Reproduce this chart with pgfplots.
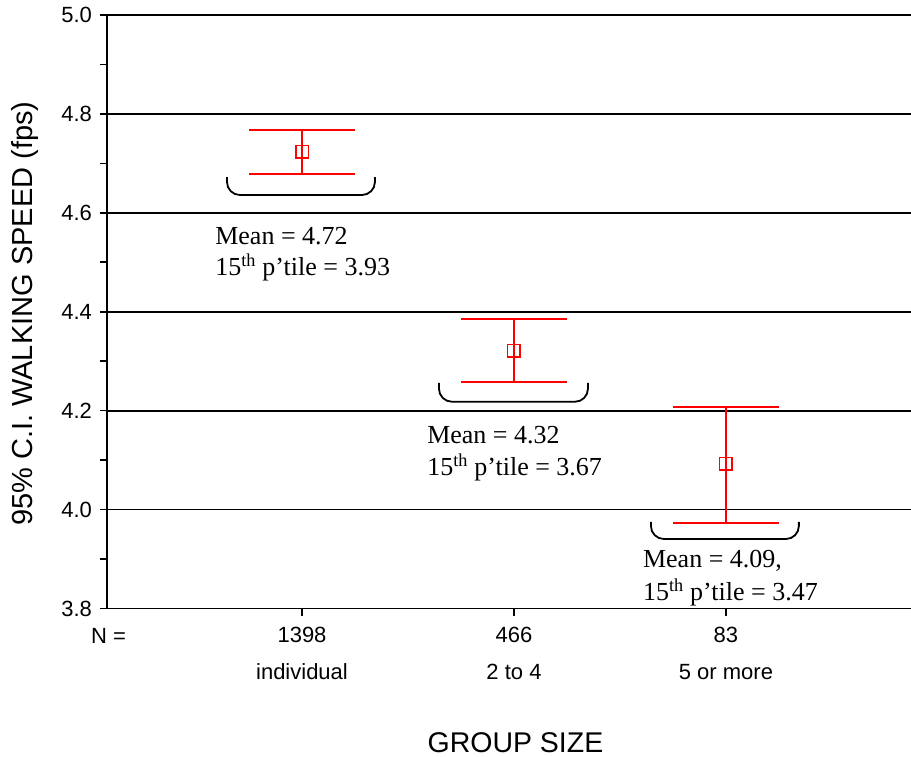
\documentclass[border=0pt]{standalone}
\usepackage{fontspec}
\setmainfont{Liberation Serif}
\setsansfont{Liberation Sans}
\usepackage{pgfplots}
\pgfplotsset{compat=1.18}
\begin{document}
\begin{tikzpicture}[x=1bp,y=1bp]
\begin{axis}[
  at={(0,0)}, anchor=south west,
  scale only axis, width=804bp, height=593.5bp,
  xmin=0.080, xmax=3.873, ymin=3.8, ymax=5.0,
  axis x line=bottom, axis y line=left,
  axis line style={-, line width=1.8bp},
  xtick={1,2,3}, xticklabels={1398,466,83},
  ytick={3.8,4.0,4.2,4.4,4.6,4.8,5.0},
  minor ytick={3.9,4.1,4.3,4.5,4.7,4.9},
  yticklabel style={xshift=-4.5bp, /pgf/number format/fixed, /pgf/number format/fixed zerofill, /pgf/number format/precision=1},
  xticklabel style={anchor=base, yshift=-26.5bp},
  ymajorgrids, grid style={black, line width=1.8bp},
  tick align=outside, major tick length=7bp, minor tick length=7bp,
  every tick/.style={black, line width=1.6bp},
  ticklabel style={font=\sffamily\fontsize{22bp}{26bp}\selectfont},
  /pgf/number format/assume math mode=true,
  clip=false,
]
\addplot[only marks, red, mark=square, mark size=6.3bp,
  mark options={line width=1.6bp, fill=none},
  error bars/.cd, y dir=both, y explicit,
  error bar style={red, line width=1.7bp},
  error mark options={rotate=90, red, line width=1.7bp, mark size=53bp}]
  coordinates {
  (1,4.723) += (0,0.0445) -= (0,0.0445)
  (2,4.3207) += (0,0.0643) -= (0,0.0627)
  (3,4.0922) += (0,0.1153) -= (0,0.1192)
  };
% brackets
\draw[black, line width=1.8bp, rounded corners=13bp]
  (axis cs:0.646,4.672) -- (axis cs:0.646,4.636) -- (axis cs:1.344,4.636) -- (axis cs:1.344,4.672);
\draw[black, line width=1.8bp, rounded corners=13bp]
  (axis cs:1.646,4.256) -- (axis cs:1.646,4.218) -- (axis cs:2.349,4.218) -- (axis cs:2.349,4.256);
\draw[black, line width=1.8bp, rounded corners=13bp]
  (axis cs:2.646,3.975) -- (axis cs:2.646,3.9405) -- (axis cs:3.344,3.9405) -- (axis cs:3.344,3.975);
% annotations
\tikzset{ann/.style={anchor=base west, inner sep=0pt, font=\rmfamily\fontsize{26bp}{30bp}\selectfont}}
\node[ann] at (axis cs:0.590,4.535) {Mean = 4.72};
\node[ann] at (axis cs:0.590,4.4723) {15\textsuperscript{th} p’tile = 3.93};
\node[ann] at (axis cs:1.590,4.1326) {Mean = 4.32};
\node[ann] at (axis cs:1.590,4.068) {15\textsuperscript{th} p’tile = 3.67};
\node[ann] at (axis cs:2.608,3.882) {Mean = 4.09,};
\node[ann] at (axis cs:2.608,3.8152) {15\textsuperscript{th} p’tile = 3.47};
% second row of category labels
\tikzset{cat/.style={anchor=base, inner sep=0pt, font=\sffamily\fontsize{22bp}{26bp}\selectfont}}
\node[cat] at (axis cs:1,3.8) [yshift=-70.5bp] {individual};
\node[cat] at (axis cs:2,3.8) [yshift=-70.5bp] {2 to 4};
\node[cat] at (axis cs:3,3.8) [yshift=-70.5bp] {5 or more};
\node[cat] at (axis cs:0.087,3.8) [yshift=-34.5bp] {N =};
% axis titles
\node[anchor=base, inner sep=0pt, font=\sffamily\fontsize{28.5bp}{34bp}\selectfont] at (axis cs:2.007,3.8) [yshift=-143.5bp] {GROUP SIZE};
\node[xshift=-74bp, yshift=-2bp, rotate=90, anchor=base, inner sep=0pt, font=\sffamily\fontsize{29bp}{34bp}\selectfont] at (rel axis cs:0,0.5) {95\% C.I. WALKING SPEED (fps)};
\end{axis}
\pgfresetboundingbox
\path[use as bounding box] (-107,-148.5) rectangle (804,608.5);
\end{tikzpicture}
\end{document}
